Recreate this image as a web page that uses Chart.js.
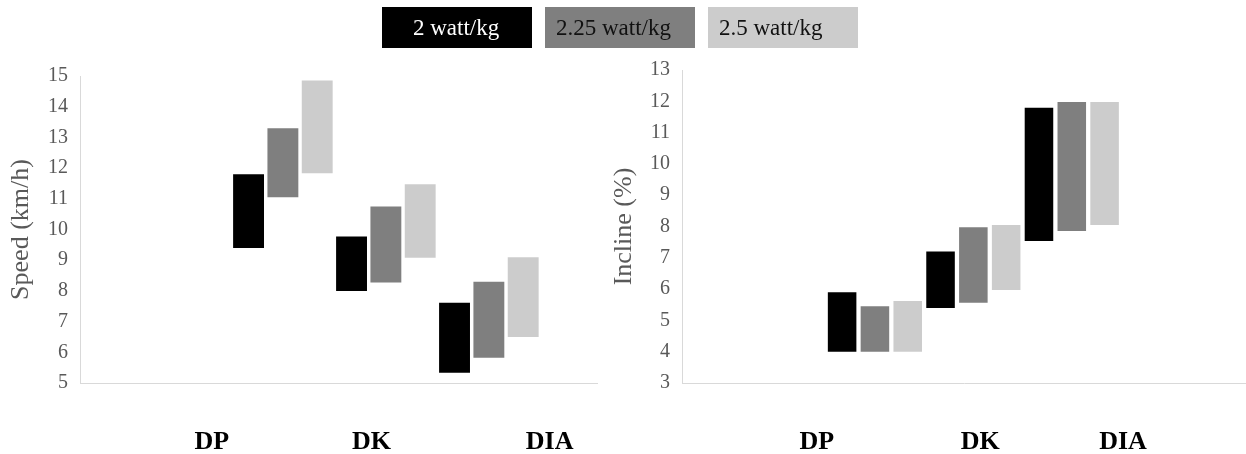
<!DOCTYPE html>
<html>
<head>
<meta charset="utf-8">
<script src="https://cdn.jsdelivr.net/npm/chart.js@4.4.1/dist/chart.umd.min.js"></script>
<style>
  body { margin: 0; background: #fff; }
  #wrap { position: relative; width: 1246px; height: 454px; overflow: hidden; }
  #left { position: absolute; left: 0; top: 0; }
  #right { position: absolute; left: 600px; top: 0; }
  #legend { position: absolute; top: 7px; left: 382px; display: flex; gap: 13px; z-index: 2; }
  #legend div { width: 150px; height: 41px; line-height: 41px; box-sizing: border-box;
    font-family: "Liberation Serif", "Times New Roman", serif; font-size: 23px; white-space: nowrap; }
</style>
</head>
<body>
<div id="wrap">
  <div id="legend"></div>
  <canvas id="left" width="600" height="454"></canvas>
  <canvas id="right" width="646" height="454"></canvas>
</div>
<script>
// categories and series
const categories = ['DP', 'DK', 'DIA'];
const series = ['2 watt/kg', '2.25 watt/kg', '2.5 watt/kg'];
const colors = ['#000000', '#7f7f7f', '#cccccc'];

// speed (km/h) ranges, low / high per category
const speedLow2 = [9.4, 8.0, 5.33];
const speedHigh2 = [11.8, 9.77, 7.61];
const speedLow225 = [11.05, 8.27, 5.82];
const speedHigh225 = [13.3, 10.75, 8.3];
const speedLow25 = [11.83, 9.08, 6.5];
const speedHigh25 = [14.85, 11.47, 9.1];

// incline (%) ranges
const inclineLow2 = [4.0, 5.4, 7.54];
const inclineHigh2 = [5.9, 7.2, 11.79];
const inclineLow225 = [4.0, 5.56, 7.86];
const inclineHigh225 = [5.45, 7.98, 11.98];
const inclineLow25 = [4.0, 5.97, 8.05];
const inclineHigh25 = [5.62, 8.05, 11.98];

// legend boxes
const legend = document.getElementById('legend');
series.forEach((name, i) => {
    const box = document.createElement('div');
    box.textContent = name;
    box.style.background = colors[i];
    box.style.color = i === 0 ? '#ffffff' : '#111111';
    box.style.paddingLeft = i === 0 ? '31px' : '11px';
    legend.appendChild(box);
});

Chart.defaults.font.family = '"Liberation Serif", "Times New Roman", serif';
Chart.defaults.color = '#595959';

const toPoints = (low, high) => categories.map((c, i) => ({ x: i, y: [low[i], high[i]] }));

const makeChart = (canvasId, cfg) => {
    const datasets = cfg.ranges.map((r, i) => ({
        label: series[i],
        data: toPoints(r[0], r[1]),
        backgroundColor: colors[i],
        borderWidth: 0,
        categoryPercentage: 1.0,
        barPercentage: cfg.barPct,
    }));

    return new Chart(document.getElementById(canvasId), {
        type: 'bar',
        data: { datasets: datasets },
        options: {
            responsive: false,
            animation: false,
            layout: { padding: { top: cfg.top, right: cfg.right, left: 0, bottom: 0 } },
            plugins: {
                legend: { display: false },
                tooltip: { enabled: false },
            },
            scales: {
                x: {
                    type: 'linear',
                    offset: false,
                    min: cfg.xMin,
                    max: cfg.xMax,
                    grid: { display: false, drawTicks: false },
                    border: { color: '#d9d9d9', width: 1 },
                    afterBuildTicks: axis => {
                        axis.ticks = cfg.labelAt.map(v => ({ value: v }));
                    },
                    ticks: {
                        autoSkip: false,
                        maxRotation: 0,
                        padding: 44,
                        color: '#000000',
                        font: { size: 26, weight: 'bold' },
                        callback: (value, index) => categories[index],
                    },
                    afterFit: scale => {
                        scale.height = 71;
                        scale.paddingLeft = 0;
                        scale.paddingRight = 0;
                    },
                },
                y: {
                    min: cfg.yMin,
                    max: cfg.yMax,
                    grid: { display: false, drawTicks: false },
                    border: { color: '#d9d9d9', width: 1 },
                    ticks: { stepSize: 1, padding: 12, color: '#595959', font: { size: 20 } },
                    title: {
                        display: true,
                        text: cfg.title,
                        color: '#595959',
                        font: { size: 26 },
                        padding: { top: cfg.titlePad, bottom: 0 },
                    },
                    afterFit: scale => { scale.width = cfg.yWidth; },
                },
            },
        },
    });
};

makeChart('left', {
    ranges: [[speedLow2, speedHigh2], [speedLow225, speedHigh225], [speedLow25, speedHigh25]],
    title: 'Speed (km/h)',
    yMin: 5, yMax: 15,
    xMin: -1.97, xMax: 3.05,
    labelAt: [-0.69, 0.86, 2.59],
    barPct: 0.9,
    top: 76, right: 3, yWidth: 80, titlePad: 6,
});

makeChart('right', {
    ranges: [[inclineLow2, inclineHigh2], [inclineLow225, inclineHigh225], [inclineLow25, inclineHigh25]],
    title: 'Incline (%)',
    yMin: 3, yMax: 13,
    xMin: -1.96, xMax: 3.77,
    labelAt: [-0.59, 1.07, 2.52],
    barPct: 0.87,
    top: 70, right: 0, yWidth: 82, titlePad: 9,
});
</script>
</body>
</html>
